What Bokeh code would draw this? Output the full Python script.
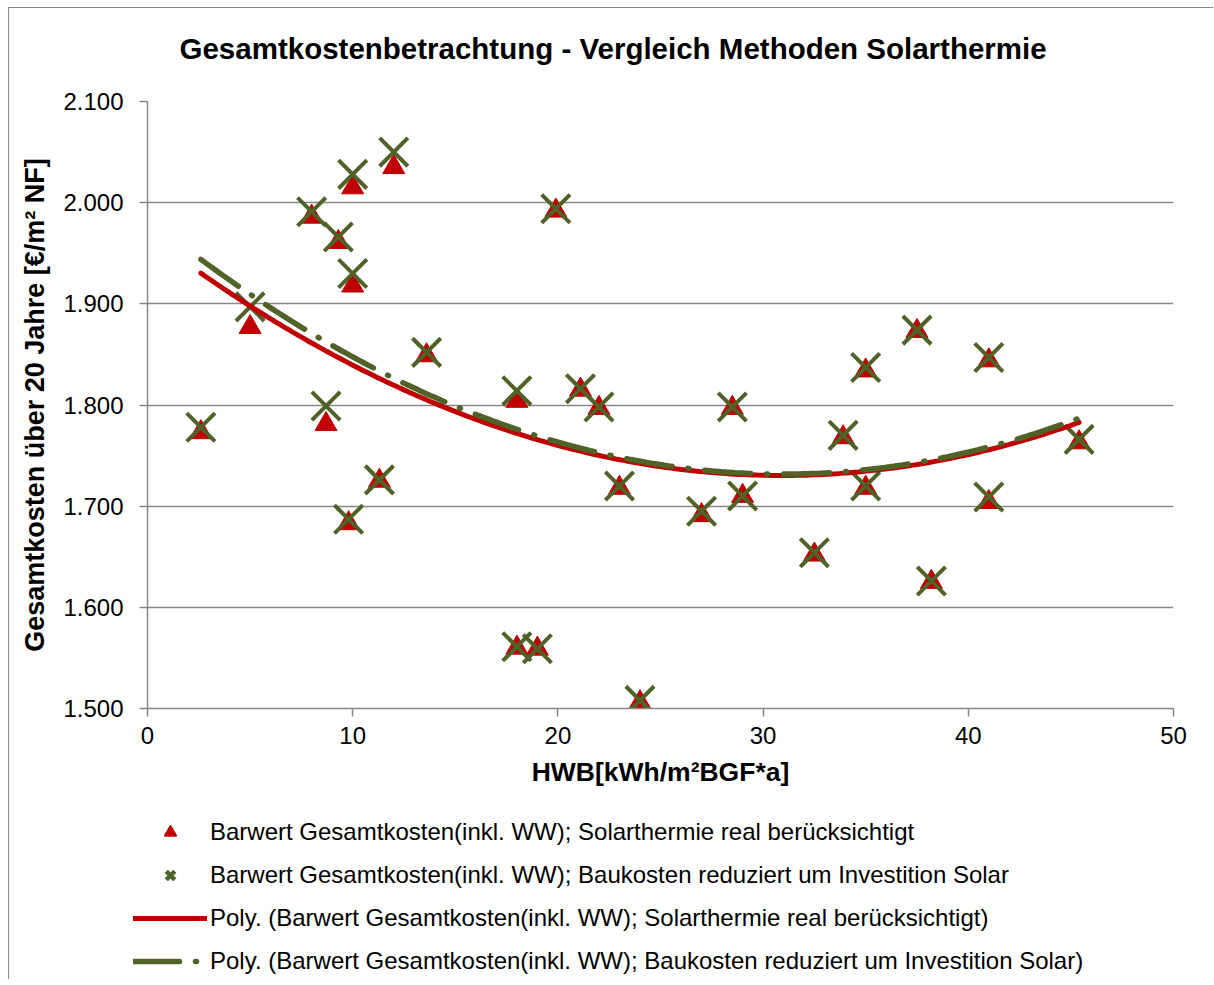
import numpy as np
from bokeh.plotting import figure
from bokeh.layouts import column
from bokeh.models import ColumnDataSource, Legend, LegendItem, FixedTicker, Title, Range1d
from bokeh.embed import file_html
from bokeh.resources import INLINE

# ---- data ----
hwb = [2.6, 5.0, 8.0, 8.7, 9.3, 9.8, 10.0, 10.0, 11.3, 12.0, 13.6, 18.0, 18.0, 19.0,
       19.9, 21.1, 22.0, 23.0, 24.0, 27.0, 28.5, 29.0, 32.5, 33.9, 35.0, 35.0, 37.5,
       38.2, 41.0, 41.0, 45.4]
kosten_real = [1773, 1877, 1986, 1781, 1961, 1683, 2015, 1918, 1725, 2035, 1849, 1804,
               1560, 1559, 1992, 1815, 1797, 1718, 1506, 1691, 1797, 1710, 1652, 1768,
               1834, 1718, 1873, 1625, 1844, 1704, 1763]
kosten_reduziert = [1778, 1897, 1991, 1799, 1966, 1687, 2028, 1930, 1726, 2050, 1852, 1814,
                    1561, 1559, 1994, 1816, 1798, 1720, 1508, 1695, 1798, 1710, 1654, 1770,
                    1837, 1720, 1874, 1626, 1847, 1709, 1766]

x_ticks = [0, 10, 20, 30, 40, 50]
y_ticks = [1500, 1600, 1700, 1800, 1900, 2000, 2100]
y_tick_labels = ["1.500", "1.600", "1.700", "1.800", "1.900", "2.000", "2.100"]

title_text = "Gesamtkostenbetrachtung - Vergleich Methoden Solarthermie"
x_label = "HWB[kWh/m²BGF*a]"
y_label = "Gesamtkosten über 20 Jahre [€/m² NF]"
names = [
    "Barwert Gesamtkosten(inkl. WW); Solarthermie real berücksichtigt",
    "Barwert Gesamtkosten(inkl. WW); Baukosten reduziert um Investition Solar",
    "Poly. (Barwert Gesamtkosten(inkl. WW); Solarthermie real berücksichtigt)",
    "Poly. (Barwert Gesamtkosten(inkl. WW); Baukosten reduziert um Investition Solar)",
]

RED = "#C00000"
GREEN = "#4F6228"
GRID = "#878787"
FONT = "Liberation Sans"
DASH = "46 16 1 16"

# ---- polynomial (order 2) trend lines, as in the spreadsheet ----
xs = np.array(hwb, dtype=float)
xfit = np.linspace(xs.min(), xs.max(), 200)
fit_real = np.polyval(np.polyfit(xs, np.array(kosten_real, float), 2), xfit)
fit_red = np.polyval(np.polyfit(xs, np.array(kosten_reduziert, float), 2), xfit)

p = figure(frame_width=1026, frame_height=607,
           x_range=(0, 50), y_range=(1500, 2100),
           output_backend="svg", toolbar_location=None,
           min_border_left=138, min_border_right=40, min_border_top=93,
           min_border_bottom=0)

p.title.text = title_text
p.title.text_font = FONT
p.title.text_font_size = "29.5px"
p.title.text_font_style = "bold"
p.title.text_color = "#000000"
p.title.align = "left"
p.title.offset = 32
p.title.vertical_align = "bottom"
p.title.standoff = 10

# empty spacer between title and plot area
p.add_layout(Title(text=" ", text_font_size="20px", standoff=8), "above")

src = ColumnDataSource(dict(x=hwb, real=kosten_real, red=kosten_reduziert))
r_line_red = p.line(xfit, fit_real, line_color=RED, line_width=5, line_cap="round")
r_line_green = p.line(xfit, fit_red, line_color=GREEN, line_width=5.5, line_cap="round",
                      line_dash=DASH)
r_tri = p.scatter("x", "real", source=src, marker="triangle", size=22,
                  fill_color=RED, line_color=RED, line_width=1)
r_x = p.scatter("x", "red", source=src, marker="x", size=40,
                line_color=GREEN, line_width=4)
p.renderers = [r_tri, r_x, r_line_red, r_line_green]

# axes
for ax in (p.xaxis[0], p.yaxis[0]):
    ax.axis_line_color = GRID
    ax.axis_line_width = 1.5
    ax.major_tick_line_color = GRID
    ax.major_tick_line_width = 1.5
    ax.major_tick_in = 0
    ax.major_tick_out = 8
    ax.minor_tick_line_color = None
    ax.major_label_text_font = FONT
    ax.major_label_text_font_size = "24px"
    ax.major_label_text_color = "#000000"
    ax.axis_label_text_font = FONT
    ax.axis_label_text_font_style = "bold"
    ax.axis_label_text_color = "#000000"

p.xaxis.axis_label_text_font_size = "26.5px"
p.yaxis.axis_label_text_font_size = "27px"
p.xaxis.ticker = FixedTicker(ticks=x_ticks)
p.yaxis.ticker = FixedTicker(ticks=y_ticks)
p.yaxis.major_label_overrides = {t: l for t, l in zip(y_ticks, y_tick_labels)}
p.xaxis.axis_label = x_label
p.yaxis.axis_label = y_label
p.xaxis.major_label_standoff = 10
p.xaxis.axis_label_standoff = 10
p.yaxis.major_label_standoff = 16
p.yaxis.axis_label_standoff = 10

p.xgrid.grid_line_color = None
p.ygrid.grid_line_color = GRID
p.ygrid.grid_line_width = 1.5
p.outline_line_color = None
p.background_fill_color = "white"
p.border_fill_color = "white"

# ---- legend panel below the chart (same glyph styles as the series) ----
lf = figure(frame_width=1204, frame_height=190, x_range=Range1d(0, 1), y_range=Range1d(0, 1),
            output_backend="svg", toolbar_location=None,
            min_border_left=0, min_border_right=0, min_border_top=0, min_border_bottom=0)
lf.axis.visible = False
lf.grid.visible = False
lf.outline_line_color = None
lf.background_fill_color = "white"
lf.border_fill_color = "white"
# legend-key renderers: their key points lie outside the visible range
key = ColumnDataSource(dict(x=[-5, -4], y=[-5, -4]))
l_tri = lf.scatter("x", "y", source=key, marker="triangle", fill_color=RED, line_color=RED,
                   line_width=1.5)
l_x = lf.scatter("x", "y", source=key, marker="x", line_color=GREEN, line_width=4.5)
l_red = lf.line("x", "y", source=key, line_color=RED, line_width=5, line_cap="round")
l_green = lf.line("x", "y", source=key, line_color=GREEN, line_width=5.5,
                  line_cap="round", line_dash=DASH)

legend = Legend(items=[
    LegendItem(label=names[0], renderers=[l_tri]),
    LegendItem(label=names[1], renderers=[l_x]),
    LegendItem(label=names[2], renderers=[l_red]),
    LegendItem(label=names[3], renderers=[l_green]),
], location=(124, 3), orientation="vertical",
    glyph_width=74, glyph_height=30, spacing=13, label_standoff=3,
    label_text_font=FONT, label_text_font_size="24px", label_text_color="#000000",
    padding=0, margin=0, border_line_color=None, background_fill_alpha=0)
lf.add_layout(legend, "center")

layout = column(p, lf, spacing=0)
layout.styles = {"margin-left": "8px", "margin-top": "7px",
                 "border-left": "1px solid #868686", "border-top": "1px solid #868686"}

open("out.html", "w").write(file_html(layout, INLINE))
